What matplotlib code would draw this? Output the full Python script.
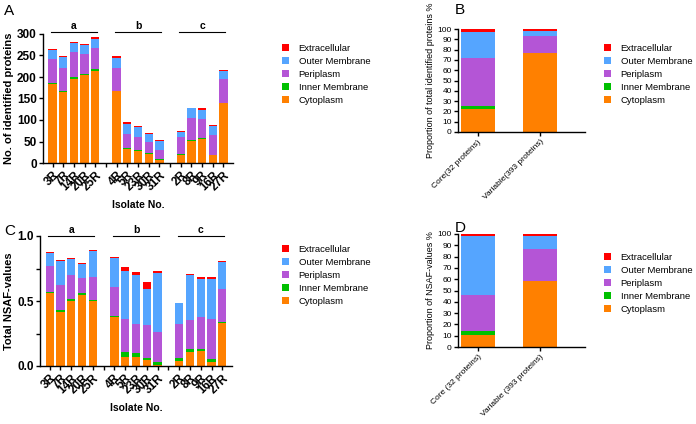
import matplotlib
matplotlib.use('Agg')
import numpy as np
from matplotlib import pyplot as plt
from matplotlib.patches import Patch

plt.rcParams['font.family'] = ['Liberation Sans', 'DejaVu Sans']

# localisation classes, bottom to top of each stack
categories = ['Cytoplasm', 'Inner Membrane', 'Periplasm', 'Outer Membrane', 'Extracellular']
colors = ['#ff8000', '#00c000', '#b455d6', '#55a5ff', '#ff0000']

group_names = ['a', 'b', 'c']
isolates_a = ['3R', '7R', '14R', '20R', '25R']
isolates_b = ['4R', '5R', '23R', '30R', '31R']
isolates_c = ['2R', '8R', '9R', '16R', '27R']

# panel A: number of identified proteins
cyto_counts = [184, 166, 196, 205, 215, 167, 33, 28, 22, 8, 19, 52, 56, 18, 139]
im_counts = [2, 1, 3, 2, 3, 1, 3, 3, 2, 1, 3, 2, 3, 1, 1]
peri_counts = [57, 55, 60, 47, 49, 54, 32, 29, 25, 21, 38, 50, 43, 46, 55]
om_counts = [19, 24, 20, 20, 22, 22, 23, 24, 18, 21, 13, 23, 22, 22, 18]
ec_counts = [4, 3, 2, 2, 4, 4, 4, 2, 2, 2, 1, 2, 3, 1, 3]

# panel C: total NSAF values
cyto_nsaf = [0.560, 0.418, 0.500, 0.549, 0.500, 0.374, 0.072, 0.069, 0.046, 0.004,
             0.041, 0.110, 0.115, 0.033, 0.331]
im_nsaf = [0.010, 0.010, 0.013, 0.010, 0.008, 0.013, 0.038, 0.034, 0.016, 0.030,
           0.023, 0.018, 0.018, 0.018, 0.010]
peri_nsaf = [0.200, 0.192, 0.187, 0.118, 0.174, 0.221, 0.254, 0.220, 0.251, 0.231,
             0.259, 0.226, 0.241, 0.311, 0.254]
om_nsaf = [0.100, 0.190, 0.120, 0.110, 0.200, 0.225, 0.364, 0.377, 0.282, 0.449,
           0.159, 0.343, 0.298, 0.310, 0.202]
ec_nsaf = [0.007, 0.005, 0.010, 0.008, 0.008, 0.008, 0.036, 0.023, 0.054, 0.020,
           0.003, 0.008, 0.015, 0.013, 0.008]

# panels B and D: core vs variable proteome (%)
pan_labels_b = ['Core(32 proteins)', 'Variable(393 proteins)']
pan_labels_d = ['Core (32 proteins)', 'Variable (393 proteins)']
core_prot_pct = [21.9, 3.1, 46.9, 25.0, 3.1]
var_prot_pct = [76.6, 0.5, 16.3, 5.1, 1.5]
core_nsaf_pct = [10.7, 3.8, 31.9, 51.5, 2.1]
var_nsaf_pct = [58.5, 0.2, 28.0, 11.2, 2.1]


def style_axes(ax, tick_size, bold):
    for s in ('top', 'right'):
        ax.spines[s].set_visible(False)
    for s in ('left', 'bottom'):
        ax.spines[s].set_linewidth(1.0)
    ax.tick_params(width=1.0, length=3, labelsize=tick_size, pad=1.5)
    if bold:
        for lab in ax.get_yticklabels():
            lab.set_fontweight('bold')


def add_legend(ax, x, y):
    handles = [Patch(facecolor=c, edgecolor='none') for c in colors][::-1]
    ax.legend(handles, categories[::-1], loc='upper left', bbox_to_anchor=(x, y),
              bbox_transform=ax.figure.transFigure, frameon=False, fontsize=6.8,
              handlelength=0.75, handleheight=0.7, handletextpad=1.0,
              labelspacing=0.42, borderaxespad=0, borderpad=0)


def isolate_panel(ax, layers, ymax, yticks, ylabel, line_y):
    groups = [isolates_a, isolates_b, isolates_c]
    pos, all_pos, all_names = [], [], []
    p = 0
    for gi, g in enumerate(groups):
        for n in g:
            pos.append(p)
            all_pos.append(p)
            all_names.append(n)
            p += 1
        if gi < len(groups) - 1:
            # empty slot between groups, still gets a tick
            all_pos.append(p)
            all_names.append('')
            p += 1
    pos = np.array(pos)
    bottom = np.zeros(len(pos))
    for vals, c in zip(layers, colors):
        ax.bar(pos, vals, width=0.78, bottom=bottom, color=c, edgecolor='none')
        bottom += np.array(vals)
    ax.set_xlim(-0.9, 16.9)
    ax.set_ylim(0, ymax)
    ax.set_yticks(yticks)
    ax.set_xticks(all_pos)
    ax.set_xticklabels(all_names, rotation=45, ha='right', rotation_mode='anchor',
                       fontsize=7.5, fontweight='bold')
    ax.set_ylabel(ylabel, fontsize=8, fontweight='bold', labelpad=2)
    ax.set_xlabel('Isolate No.', fontsize=7.5, fontweight='bold', labelpad=5)
    # group brackets a / b / c
    for gi, name in enumerate(group_names):
        x0 = gi * 6 - 0.15
        x1 = gi * 6 + 4.15
        ax.plot([x0, x1], [line_y, line_y], color='black', lw=0.8, clip_on=False)
        ax.text((x0 + x1) / 2, line_y * 1.01, name, ha='center', va='bottom',
                fontsize=7.5, fontweight='bold')


def pan_panel(ax, core, var, labels, ylabel):
    x = np.arange(2)
    bottom = np.zeros(2)
    for i, c in enumerate(colors):
        vals = np.array([core[i], var[i]])
        ax.bar(x, vals, width=0.55, bottom=bottom, color=c, edgecolor='none')
        bottom += vals
    ax.set_xlim(-0.32, 1.73)
    ax.set_ylim(0, 100)
    ax.set_yticks(np.arange(0, 101, 10))
    ax.set_xticks(x)
    ax.set_xticklabels(labels, rotation=45, ha='right', rotation_mode='anchor',
                       fontsize=6.3)
    ax.set_ylabel(ylabel, fontsize=6.5, labelpad=2)


fig = plt.figure(figsize=(6.96, 4.24), dpi=100)

axA = fig.add_axes([43 / 696, 1 - 163 / 424, 190 / 696, 129 / 424])
isolate_panel(axA, [cyto_counts, im_counts, peri_counts, om_counts, ec_counts],
              300, np.arange(0, 301, 50), 'No. of identified proteins', 305)
style_axes(axA, 8.5, True)
add_legend(axA, 282 / 696, 1 - 44 / 424)

axC = fig.add_axes([40 / 696, 1 - 366 / 424, 192 / 696, 130 / 424])
isolate_panel(axC, [cyto_nsaf, im_nsaf, peri_nsaf, om_nsaf, ec_nsaf],
              1.0, [0.0, 0.5, 1.0], 'Total NSAF-values', 1.0)
axC.set_yticks([0.25, 0.75], minor=True)
axC.set_yticklabels(['0.0', '0.5', '1.0'])
style_axes(axC, 8.5, True)
axC.tick_params(which='minor', width=1.0, length=3)
add_legend(axC, 282 / 696, 1 - 245 / 424)

axB = fig.add_axes([458 / 696, 1 - 132 / 424, 127 / 696, 103 / 424])
pan_panel(axB, core_prot_pct, var_prot_pct, pan_labels_b,
          'Proportion of total identified proteins %')
style_axes(axB, 6, False)
add_legend(axB, 604 / 696, 1 - 44 / 424)

axD = fig.add_axes([458 / 696, 1 - 347 / 424, 127 / 696, 113 / 424])
pan_panel(axD, core_nsaf_pct, var_nsaf_pct, pan_labels_d,
          'Proportion of NSAF-values %')
style_axes(axD, 6, False)
add_legend(axD, 604 / 696, 1 - 253 / 424)

for lab, x, y in [('A', 4, 4), ('B', 455, 3), ('C', 4, 224), ('D', 455, 221)]:
    fig.text(x / 696, 1 - y / 424, lab, fontsize=11, ha='left', va='top')

fig.savefig('out.png', dpi=100, facecolor='white')
